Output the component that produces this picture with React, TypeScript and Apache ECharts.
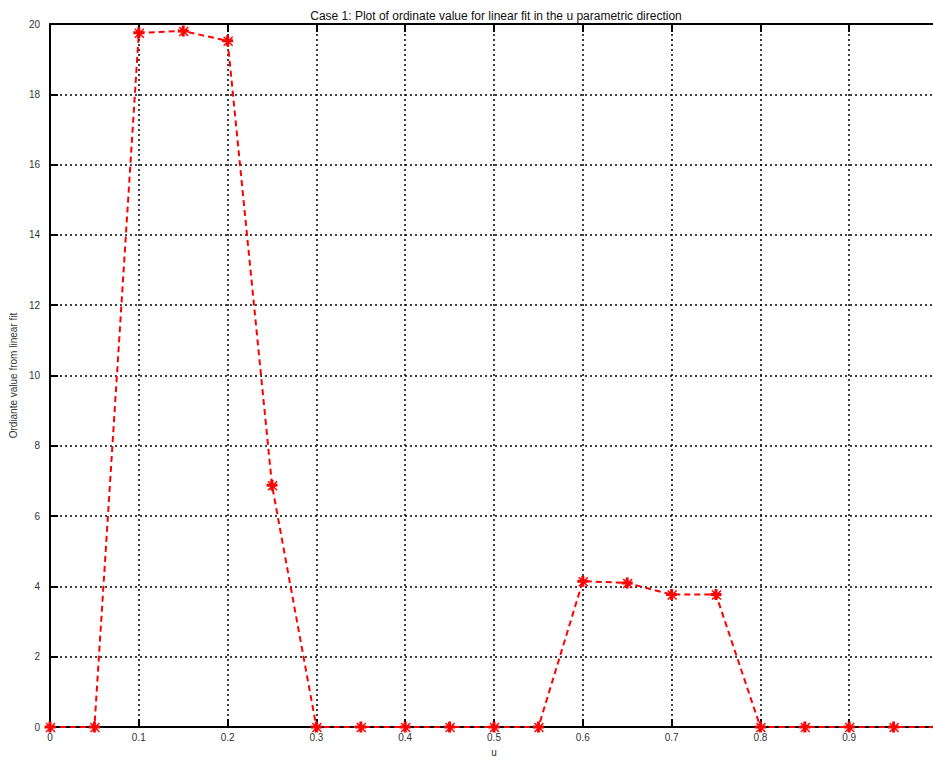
import React, { useEffect, useRef } from "react";
import * as echarts from "echarts";

const uValues = [0, 0.05, 0.1, 0.15, 0.2, 0.25, 0.3, 0.35, 0.4, 0.45, 0.5, 0.55, 0.6, 0.65, 0.7, 0.75, 0.8, 0.85, 0.9, 0.95, 1.0];
const ordinateValues = [0, 0, 19.75, 19.8, 19.52, 6.88, 0, 0, 0, 0, 0, 0, 4.15, 4.1, 3.77, 3.77, 0, 0, 0, 0, 0];
const yTicks = [0, 2, 4, 6, 8, 10, 12, 14, 16, 18, 20];

const titleText = "Case 1: Plot of ordinate value for linear fit in the u parametric direction";
const xName = "u";
const yName = "Ordiante value from linear fit";

const FONT = "'Liberation Sans', Arial, Helvetica, sans-serif";
const starPath =
  "path://M4,0h3v4h4v3h-4v4h-3v-4h-4v-3h4z M1,2l1,-1l9,9l-1,1z M10,1l1,1l-9,9l-1,-1z";

export default function App() {
  const ref = useRef<HTMLDivElement>(null);
  useEffect(() => {
    if (!ref.current) return;
    const chart = echarts.init(ref.current, undefined, { renderer: "svg" });
    const data = uValues.map((u, i) => [u, ordinateValues[i]]);
    const axisLine = { show: true, lineStyle: { color: "#000", width: 2 } };
    const tick = { show: true, inside: true, length: 8, lineStyle: { color: "#000", width: 2 } };
    const split = { show: true, lineStyle: { color: "#000", width: 1.5, type: [2, 3] as any } };
    chart.setOption({
      animation: false,
      backgroundColor: "#fff",
      title: {
        text: titleText,
        left: 491,
        top: 5,
        textAlign: "center",
        textStyle: { fontFamily: FONT, fontSize: 12, fontWeight: "normal", color: "#111" },
      },
      grid: { left: 47, right: 22, top: 24, bottom: 24, containLabel: false },
      xAxis: [
        {
          type: "value",
          min: 0,
          max: 1,
          interval: 0.1,
          position: "bottom",
          name: xName,
          nameLocation: "middle",
          nameGap: 12,
          nameTextStyle: { fontFamily: FONT, fontSize: 10, color: "#333" },
          axisLine,
          axisTick: tick,
          splitLine: split,
          axisLabel: {
            fontFamily: FONT,
            fontSize: 10,
            color: "#333",
            margin: 5,
            formatter: (v: number) => (v >= 1 ? "" : String(Math.round(v * 10) / 10)),
          },
        },
        {
          type: "value",
          min: 0,
          max: 1,
          interval: 0.1,
          position: "top",
          axisLine,
          axisTick: tick,
          splitLine: { show: false },
          axisLabel: { show: false },
        },
      ],
      yAxis: {
        type: "value",
        min: yTicks[0],
        max: yTicks[yTicks.length - 1],
        interval: 2,
        name: yName,
        nameLocation: "middle",
        nameGap: 32,
        nameTextStyle: { fontFamily: FONT, fontSize: 10, color: "#333" },
        axisLine,
        axisTick: tick,
        splitLine: split,
        axisLabel: { fontFamily: FONT, fontSize: 10, color: "#333", margin: 10 },
      },
      series: [
        {
          type: "line",
          data,
          xAxisIndex: 0,
          symbol: starPath,
          symbolSize: 11,
          showAllSymbol: true,
          lineStyle: { color: "#ff0000", width: 2, type: [6, 4] as any },
          itemStyle: { color: "#ff0000" },
          z: 5,
        },
      ],
    });
    return () => chart.dispose();
  }, []);
  return (
    <div style={{ position: "absolute", left: 0, top: 0, width: 933, height: 762, overflow: "hidden", background: "#fff" }}>
      <div ref={ref} style={{ width: 960, height: 762 }} />
    </div>
  );
}
